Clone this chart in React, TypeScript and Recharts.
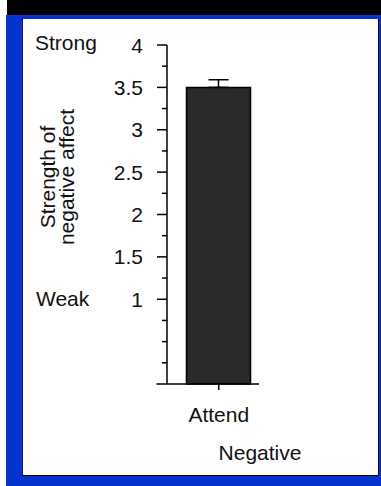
import { BarChart, Bar, XAxis, YAxis, ErrorBar, ReferenceLine } from "recharts";

const categories = ["Attend"];
const values = [3.5];
const errors = [0.09];
const yTicks = [0.25, 0.5, 0.75, 1, 1.25, 1.5, 1.75, 2, 2.25, 2.5, 2.75, 3, 3.25, 3.5, 3.75, 4];
const groupLabel = "Negative";
const yLabelLines = ["Strength of", "negative affect"];
const topLabel = "Strong";
const bottomLabel = "Weak";

const data = categories.map((c, i) => ({
  name: c,
  value: values[i],
  err: [0, errors[i]],
}));

const FONT = "'Liberation Sans', Arial, Helvetica, sans-serif";

function YTick(props: any) {
  const { x, y, payload } = props;
  const v = payload.value;
  const major = v >= 1 && Number.isInteger(v * 2);
  return (
    <g>
      <line x1={x - (major ? 10 : 5)} x2={x} y1={y} y2={y} stroke="#000" strokeWidth={1.5} />
      {major && (
        <text x={x - 24} y={y} textAnchor="end" dominantBaseline="central" fontSize={21} fill="#111" fontFamily={FONT}>
          {v}
        </text>
      )}
    </g>
  );
}

function XTick(props: any) {
  const { x, y, payload } = props;
  return (
    <text x={x} y={y + 32} textAnchor="middle" fontSize={21} fill="#111" fontFamily={FONT}>
      {payload.value}
    </text>
  );
}

function YLabel(props: any) {
  const vb = props.viewBox;
  const cy = vb.y + 132;
  const oneY = vb.y + vb.height * 0.75;
  return (
    <g fontFamily={FONT} fontSize={21} fill="#111">
      <text x={vb.x - 72} y={vb.y + 5}>{topLabel}</text>
      <text x={vb.x - 71} y={oneY + 6.5}>{bottomLabel}</text>
      {yLabelLines.map((t, i) => {
        const cx = 47 + i * 19;
        return (
          <text
            key={t}
            x={cx}
            y={cy}
            textAnchor="middle"
            dominantBaseline="central"
            transform={`rotate(-90, ${cx}, ${cy})`}
          >
            {t}
          </text>
        );
      })}
    </g>
  );
}

function XLabel(props: any) {
  const vb = props.viewBox;
  return (
    <text x={vb.x + vb.width + 1} y={vb.y + 75.5} textAnchor="middle" fontSize={21} fill="#111" fontFamily={FONT}>
      {groupLabel}
    </text>
  );
}

export default function App() {
  return (
    <div style={{ position: "absolute", left: 0, top: 0, width: 381, height: 486, background: "#fff" }}>
      <div style={{ position: "absolute", left: 7, top: 0, width: 374, height: 15, background: "#000" }} />
      <div style={{ position: "absolute", left: 6, top: 15, width: 375, height: 471, background: "#0433d0" }} />
      <div
        style={{
          position: "absolute",
          left: 22,
          top: 19,
          width: 355,
          height: 456,
          background: "#fff",
          borderRight: "1px solid #000",
          borderBottom: "1px solid #000",
          borderLeft: "1px solid #222",
        }}
      />
      <div style={{ position: "absolute", left: 0, top: 0 }}>
        <BarChart width={381} height={486} data={data} margin={{ top: 45, right: 122, bottom: 42, left: 107 }}>
          <XAxis
            dataKey="name"
            height={60}
            axisLine={false}
            tickLine={{ stroke: "#000", strokeWidth: 1.5 }}
            tickSize={6}
            tickMargin={0}
            tick={<XTick />}
            padding={{ left: 11.5, right: 0 }}
            label={<XLabel />}
          />
          <YAxis
            width={60}
            domain={[0, 4]}
            ticks={yTicks}
            interval={0}
            tickSize={0}
            tickMargin={0}
            tickLine={false}
            axisLine={{ stroke: "#000", strokeWidth: 1.5 }}
            tick={<YTick />}
            label={<YLabel />}
          />
          <Bar dataKey="value" barSize={64} fill="#2a2a2a" stroke="#000" strokeWidth={1.5} isAnimationActive={false}>
            <ErrorBar dataKey="err" width={10} stroke="#000" strokeWidth={1.5} direction="y" />
          </Bar>
          <ReferenceLine
            y={0}
            shape={(p: any) => (
              <line x1={p.x1 - 10.5} x2={p.x2} y1={p.y1} y2={p.y2} stroke="#000" strokeWidth={1.5} />
            )}
          />
        </BarChart>
      </div>
    </div>
  );
}
